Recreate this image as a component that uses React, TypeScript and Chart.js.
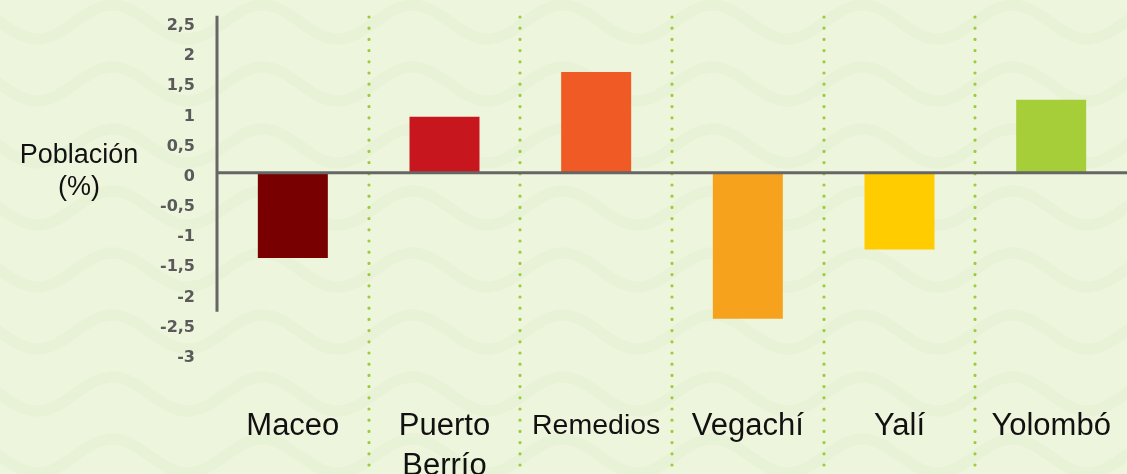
import React, { useEffect, useRef } from 'react';
import { Chart, registerables } from 'chart.js';

Chart.register(...registerables);

// ---- data ----
const CATEGORIES: (string | string[])[] = ['Maceo', ['Puerto', 'Berrío'], 'Remedios', 'Vegachí', 'Yalí', 'Yolombó'];
const VALUES = [-1.41, 0.93, 1.67, -2.42, -1.27, 1.21];
const BAR_COLORS = ['#780000', '#C8161E', '#F05A24', '#F7A21D', '#FFCC00', '#A6CE39'];
const Y_TICK_VALUES = [2.5, 2, 1.5, 1, 0.5, 0, -0.5, -1, -1.5, -2, -2.5, -3];
const Y_TICK_LABELS = ['2,5', '2', '1,5', '1', '0,5', '0', '-0,5', '-1', '-1,5', '-2', '-2,5', '-3'];
const Y_TITLE = ['Población', '(%)'];
const Y_MIN = -3.3;
const Y_MAX = 2.63;
const Y_AXIS_LINE_RANGE = [2.6, -2.3];

const BG = '#EDF5DC';
const FONT = '"Liberation Sans", Arial, Helvetica, sans-serif';

const decor = {
  id: 'decor',
  beforeDraw(chart: any) {
    const { ctx, width, height } = chart;
    ctx.save();
    ctx.fillStyle = BG;
    ctx.fillRect(0, 0, width, height);
    // faint wave texture of the background
    ctx.strokeStyle = 'rgba(200,212,180,0.1)';
    ctx.lineWidth = 11;
    for (let row = -40; row < height + 60; row += 62) {
      ctx.beginPath();
      for (let x = -10; x <= width + 10; x += 4) {
        const y = row + 17 * Math.sin((2 * Math.PI * x) / 150);
        if (x === -10) ctx.moveTo(x, y);
        else ctx.lineTo(x, y);
      }
      ctx.stroke();
    }
    ctx.restore();
  },
  beforeDatasetsDraw(chart: any) {
    const { ctx, chartArea } = chart;
    const xs = chart.scales.x;
    ctx.save();
    ctx.strokeStyle = '#9CCB3C';
    ctx.lineWidth = 3.2;
    ctx.lineCap = 'round';
    ctx.setLineDash([0, 11.2]);
    for (let i = 0; i < xs.ticks.length - 1; i++) {
      const px = Math.round((xs.getPixelForTick(i) + xs.getPixelForTick(i + 1)) / 2);
      ctx.beginPath();
      ctx.moveTo(px, chartArea.top + 3);
      ctx.lineTo(px, chart.height + 5);
      ctx.stroke();
    }
    ctx.restore();
  },
  afterDatasetsDraw(chart: any) {
    const { ctx, chartArea } = chart;
    const ys = chart.scales.y;
    const y0 = ys.getPixelForValue(0);
    ctx.save();
    ctx.strokeStyle = '#666666';
    ctx.lineWidth = 3;
    ctx.beginPath();
    ctx.moveTo(chartArea.left, y0);
    ctx.lineTo(chart.width, y0);
    ctx.stroke();
    ctx.beginPath();
    ctx.moveTo(chartArea.left, ys.getPixelForValue(Y_AXIS_LINE_RANGE[0]));
    ctx.lineTo(chartArea.left, ys.getPixelForValue(Y_AXIS_LINE_RANGE[1]));
    ctx.stroke();
    ctx.fillStyle = '#111111';
    ctx.font = '27px ' + FONT;
    ctx.textAlign = 'center';
    ctx.textBaseline = 'alphabetic';
    ctx.fillText(Y_TITLE[0], 79, y0 - 10);
    ctx.fillText(Y_TITLE[1], 79, y0 + 22);
    ctx.restore();
  },
};

export default function App() {
  const ref = useRef<HTMLCanvasElement | null>(null);
  useEffect(() => {
    if (!ref.current) return;
    const chart = new Chart(ref.current, {
      type: 'bar',
      data: {
        labels: CATEGORIES as any,
        datasets: [
          {
            data: VALUES,
            backgroundColor: BAR_COLORS,
            borderWidth: 0,
            barPercentage: 0.4615,
            categoryPercentage: 1,
          },
        ],
      },
      options: {
        responsive: false,
        animation: false,
        events: [],
        layout: { padding: { top: 14, left: 0, right: 0, bottom: 0 } },
        plugins: { legend: { display: false }, tooltip: { enabled: false }, title: { display: false } },
        scales: {
          x: {
            offset: true,
            grid: { display: false, drawTicks: false },
            border: { display: false },
            afterFit: (s: any) => {
              s.height = 102;
              s.paddingLeft = 0;
              s.paddingRight = 0;
            },
            ticks: {
              autoSkip: false,
              maxRotation: 0,
              minRotation: 0,
              padding: 34.5,
              color: '#111111',
              font: (c: any) => ({
                family: FONT,
                size: c.index === 2 ? 28.5 : 31,
                lineHeight: '40px',
              }),
            },
          },
          y: {
            min: Y_MIN,
            max: Y_MAX,
            grid: { display: false, drawTicks: false },
            border: { display: false },
            afterFit: (s: any) => {
              s.width = 217;
              s.paddingTop = 0;
              s.paddingBottom = 0;
            },
            afterBuildTicks: (s: any) => {
              s.ticks = Y_TICK_VALUES.map((v) => ({ value: v }));
            },
            ticks: {
              padding: 22,
              labelOffset: 4,
              color: '#5A5A5A',
              font: { family: '"DejaVu Sans", sans-serif', size: 16, weight: 'bold' },
              callback: (v: any) => Y_TICK_LABELS[Y_TICK_VALUES.indexOf(Number(v))] ?? '',
            },
          },
        },
      },
      plugins: [decor],
    });
    return () => chart.destroy();
  }, []);
  return (
    <div style={{ position: 'absolute', left: 0, top: 0, width: 1127, height: 474, overflow: 'hidden', background: BG }}>
      <canvas ref={ref} width={1127} height={474} style={{ display: 'block' }} />
    </div>
  );
}
